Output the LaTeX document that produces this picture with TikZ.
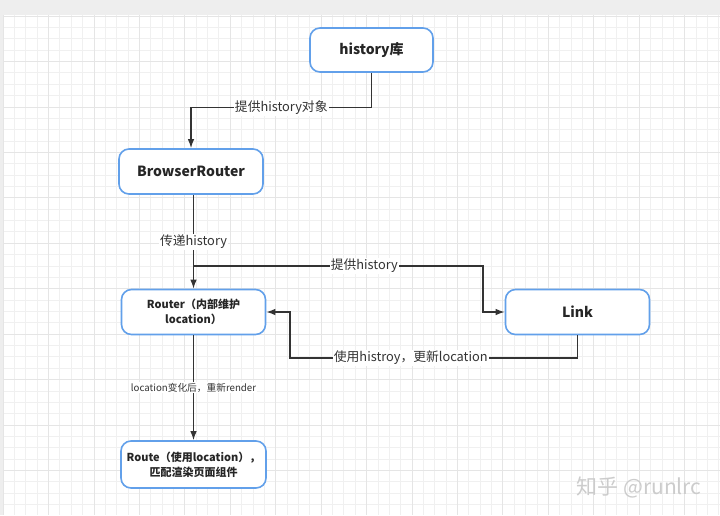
\documentclass[tikz,border=0pt]{standalone}
\usepackage{fontspec}
\setmainfont{Noto Sans CJK SC}
\usetikzlibrary{arrows.meta}
\definecolor{boxblue}{RGB}{98,160,234}
\definecolor{linegray}{RGB}{51,51,51}
\definecolor{gridminor}{RGB}{240,240,240}
\definecolor{gridmajor}{RGB}{229,229,229}
\tikzset{
  compbox/.style={draw=boxblue, line width=1.6pt, rounded corners=10pt, fill=white,
    minimum width=144pt, minimum height=45pt, align=center, text=black!85,
    font=\fontsize{14}{16}\selectfont\bfseries},
  smallbox/.style={compbox, font=\fontsize{11}{15}\selectfont\bfseries},
  flow/.style={draw=linegray, line width=1.3pt, -{Latex[length=9pt,width=6.5pt]}},
  tag/.style={fill=white, inner sep=1pt, text=black!80, font=\fontsize{12.8}{14}\selectfont}
}
\begin{document}
\begin{tikzpicture}[x=1pt,y=-1pt]
\useasboundingbox (0,0) rectangle (720,515);
% background sheet
\fill[white] (0,0) rectangle (720,515);
\fill[gray!13] (0,0) rectangle (720,15);
\fill[gray!13] (0,15) rectangle (3,515);
\foreach \i in {0,...,63} \draw[gridminor, line width=0.7pt] ({3+11.36*\i},15) -- ({3+11.36*\i},515);
\foreach \j in {0,...,44} \draw[gridminor, line width=0.7pt] (3,{16+11.36*\j}) -- (720,{16+11.36*\j});
\foreach \i in {0,...,15} \draw[gridmajor, line width=0.7pt] ({3+45.44*\i},15) -- ({3+45.44*\i},515);
\foreach \j in {0,...,11} \draw[gridmajor, line width=0.7pt] (3,{16+45.44*\j}) -- (720,{16+45.44*\j});

% components
\node[compbox, minimum width=123pt, minimum height=44pt] (hist) at (371.5,50) {history库};
\node[compbox] (browser) at (191,171.5) {BrowserRouter};
\node[smallbox] (router) at (193.5,312) {Router（内部维护\\location）};
\node[compbox] (link) at (577.5,312) {Link};
\node[smallbox, minimum width=145pt, minimum height=47pt] (route) at (193.5,464.5) {Route（使用location），\\匹配渲染页面组件};

% connectors
\coordinate (split) at (193.5,266);
\coordinate (turn) at (483,266);
\coordinate (back) at (290,358);
\draw[flow] (hist.south) -- ++(0,35) -| (browser.north) node[tag, pos=0.25] {提供history对象};
\draw[flow] (browser.south -| router.north) -- node[tag] {传递history} (router.north);
\draw[flow] (split) -- node[tag, pos=0.59] {提供history} (turn) |- (link.west);
\draw[flow] (link.south) |- (back) node[tag, pos=0.79] {使用histroy，更新location} |- (router.east);
\draw[flow] (router.south) -- node[tag, font=\fontsize{9.7}{11}\selectfont] {location变化后，重新render} (route.north);

% watermark
\node[text=gray!40, font=\fontsize{21}{22}\selectfont] (mark) at (639,487) {知乎 @runlrc};
\end{tikzpicture}
\end{document}
